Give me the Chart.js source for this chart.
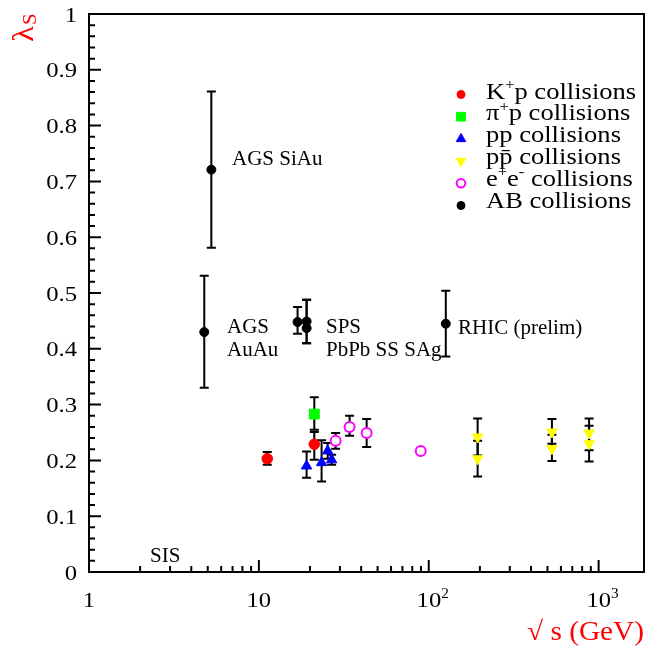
<!DOCTYPE html>
<html>
<head>
<meta charset="utf-8">
<script src="https://cdn.jsdelivr.net/npm/chart.js@4/dist/chart.umd.min.js"></script>
<style>
  body { margin: 0; background: #fff; }
  canvas { display: block; }
</style>
</head>
<body>
<canvas id="lambdaChart" width="649" height="648"></canvas>
<script>
// valores (sqrt(s) en GeV, lambda_s y barras de error)
const kpX = [11.2, 21.2];
const kpY = [0.203, 0.229];
const kpBajo = [0.192, 0.201];
const kpAlto = [0.215, 0.251];

const pipX = [21.2];
const pipY = [0.283];
const pipBajo = [0.255];
const pipAlto = [0.313];

const ppX = [19.1, 23.4, 25.4, 26.8];
const ppY = [0.190, 0.196, 0.217, 0.201];
const ppBajo = [0.169, 0.162, 0.203, 0.192];
const ppAlto = [0.216, 0.236, 0.231, 0.210];

const ppbarX = [194, 194, 531, 531, 879, 879];
const ppbarY = [0.242, 0.203, 0.251, 0.221, 0.249, 0.230];
const ppbarBajo = [0.209, 0.171, 0.230, 0.199, 0.218, 0.198];
const ppbarAlto = [0.275, 0.235, 0.274, 0.246, 0.275, 0.262];

const eeX = [28.3, 34.2, 43.1, 89.7];
const eeY = [0.235, 0.260, 0.249, 0.217];
const eeBajo = [0.221, 0.244, 0.224, 0.217];
const eeAlto = [0.249, 0.280, 0.274, 0.217];

const abX = [5.25, 4.77, 16.9, 19.1, 19.1, 126];
const abY = [0.721, 0.430, 0.448, 0.449, 0.437, 0.445];
const abBajo = [0.581, 0.330, 0.427, 0.410, 0.410, 0.386];
const abAlto = [0.861, 0.531, 0.475, 0.488, 0.488, 0.504];

// ejes
const xMin = 1, xMax = 1850;
const yMin = 0, yMax = 1;
const valoresY = [0, 0.1, 0.2, 0.3, 0.4, 0.5, 0.6, 0.7, 0.8, 0.9, 1];
const etiquetasY = ['0', '0.1', '0.2', '0.3', '0.4', '0.5', '0.6', '0.7', '0.8', '0.9', '1'];
const valoresX = [1, 10, 100, 1000];
const etiquetasX = [['1', ''], ['10', ''], ['10', '2'], ['10', '3']];

// leyenda y anotaciones
const leyenda = [
  [['K', 'n'], ['+', 'sup'], ['p collisions', 'n']],
  [['\u03c0', 'n'], ['+', 'sup'], ['p collisions', 'n']],
  [['pp collisions', 'n']],
  [['pp\u0304 collisions', 'n']],
  [['e', 'n'], ['+', 'sup'], ['e', 'n'], ['-', 'sup'], [' collisions', 'n']],
  [['AB collisions', 'n']]
];
const notas = [
  ['AGS SiAu', 232, 165],
  ['AGS', 227, 333],
  ['AuAu', 227, 356],
  ['SPS', 326, 333],
  ['PbPb SS SAg', 326, 356],
  ['RHIC (prelim)', 458, 334],
  ['SIS', 150, 562]
];

const fuente = 'Liberation Serif';

function texto(ctx, str, x, y, size, opts) {
  opts = opts || {};
  const sx = opts.sx || 1;
  ctx.save();
  ctx.font = size + 'px "' + fuente + '"';
  ctx.fillStyle = opts.color || '#000';
  ctx.textBaseline = 'alphabetic';
  ctx.textAlign = 'left';
  const w = ctx.measureText(str).width * sx;
  let x0 = x;
  if (opts.align === 'right') x0 = x - w;
  if (opts.align === 'center') x0 = x - w / 2;
  ctx.translate(x0, y);
  ctx.scale(sx, 1);
  ctx.fillText(str, 0, 0);
  ctx.restore();
  return w;
}

// texto con superindices
function rico(ctx, partes, x, y, size, opts) {
  opts = opts || {};
  const sx = opts.sx || 1;
  ctx.save();
  let total = 0;
  const piezas = partes.map(p => {
    const s = p[1] === 'n' ? size : size * 0.62;
    ctx.font = s + 'px "' + fuente + '"';
    const w = ctx.measureText(p[0]).width * sx;
    total += w;
    return { t: p[0], tipo: p[1], s: s, w: w };
  });
  ctx.restore();
  let cx = x;
  if (opts.align === 'center') cx = x - total / 2;
  if (opts.align === 'right') cx = x - total;
  piezas.forEach(p => {
    const dy = p.tipo === 'sup' ? -size * 0.42 : 0;
    texto(ctx, p.t, cx, y + dy, p.s, { sx: sx, color: opts.color });
    cx += p.w;
  });
}

const barrasError = {
  id: 'barrasError',
  beforeDatasetsDraw(chart) {
    const ctx = chart.ctx;
    const ys = chart.scales.y;
    ctx.save();
    ctx.strokeStyle = '#000';
    ctx.lineWidth = 2;
    chart.data.datasets.forEach((ds, i) => {
      const meta = chart.getDatasetMeta(i);
      meta.data.forEach((pt, j) => {
        const lo = ds.bajo[j], hi = ds.alto[j];
        if (lo === hi) return;
        const y1 = ys.getPixelForValue(lo), y2 = ys.getPixelForValue(hi);
        ctx.beginPath();
        ctx.moveTo(pt.x, y1); ctx.lineTo(pt.x, y2);
        ctx.moveTo(pt.x - 4.5, y1); ctx.lineTo(pt.x + 4.5, y1);
        ctx.moveTo(pt.x - 4.5, y2); ctx.lineTo(pt.x + 4.5, y2);
        ctx.stroke();
      });
    });
    ctx.restore();
  }
};

const marco = {
  id: 'marco',
  afterDraw(chart) {
    const ctx = chart.ctx;
    const a = chart.chartArea;
    const xs = chart.scales.x, ys = chart.scales.y;
    ctx.save();
    ctx.strokeStyle = '#000';
    ctx.lineWidth = 2;
    ctx.strokeRect(a.left, a.top, a.right - a.left, a.bottom - a.top);

    // marcas del eje y
    ctx.beginPath();
    for (let i = 0; i <= 50; i++) {
      const y = ys.getPixelForValue(i * 0.02);
      const largo = i % 5 === 0 ? 12 : 6;
      ctx.moveTo(a.left, y); ctx.lineTo(a.left + largo, y);
    }
    // marcas del eje x (log)
    [1, 10, 100, 1000].forEach(dec => {
      for (let m = 1; m <= 9; m++) {
        const v = m * dec;
        if (v <= xMin || v > xMax) continue;
        const x = xs.getPixelForValue(v);
        const largo = m === 1 ? 12 : 6;
        ctx.moveTo(x, a.bottom); ctx.lineTo(x, a.bottom - largo);
      }
    });
    ctx.stroke();
    ctx.restore();

    valoresY.forEach((v, i) => {
      texto(ctx, etiquetasY[i], a.left - 12, ys.getPixelForValue(v) + 7.5, 22, { align: 'right', sx: 1.12 });
    });
    valoresX.forEach((v, i) => {
      const e = etiquetasX[i];
      const partes = [[e[0], 'n']];
      if (e[1]) partes.push([e[1], 'sup']);
      rico(ctx, partes, xs.getPixelForValue(v) + (e[1] ? 4 : 0), 607, 22, { align: 'center', sx: 1.12 });
    });

    // titulos de los ejes
    ctx.save();
    ctx.translate(33, 42);
    ctx.rotate(-Math.PI / 2);
    const wl = texto(ctx, '\u03bb', 0, 0, 30, { color: '#ff0000', sx: 1.1 });
    texto(ctx, 'S', wl + 1, 3, 19, { color: '#ff0000', sx: 1.1 });
    ctx.restore();

    ctx.save();
    ctx.font = '27px "' + fuente + '"';
    const wt = ctx.measureText('\u221a s (GeV)').width;
    ctx.restore();
    texto(ctx, '\u221a s (GeV)', 644, 640, 27, { color: '#ff0000', align: 'right', sx: 117 / wt });

    // anotaciones
    notas.forEach(n => texto(ctx, n[0], n[1], n[2], 21));

    // leyenda
    chart.data.datasets.forEach((ds, i) => {
      const my = 94.5 + i * 22.2;
      ctx.save();
      ctx.fillStyle = ds.relleno || ds.backgroundColor;
      ctx.strokeStyle = ds.borderColor;
      ctx.lineWidth = ds.borderWidth;
      Chart.helpers.drawPoint(ctx, {
        pointStyle: ds.pointStyle,
        radius: ds.radioLeyenda,
        rotation: ds.rotation || 0,
        borderWidth: ds.borderWidth
      }, 461, my);
      ctx.restore();
      rico(ctx, leyenda[i], 486, 98.5 + i * 21.8, 22.5, { sx: 1.18 });
    });
  }
};

function puntos(xs, ys) {
  return xs.map((x, i) => ({ x: x, y: ys[i] }));
}

new Chart(document.getElementById('lambdaChart').getContext('2d'), {
  type: 'scatter',
  data: {
    datasets: [
      { data: puntos(kpX, kpY), bajo: kpBajo, alto: kpAlto, pointStyle: 'circle', pointRadius: 5.3,
        backgroundColor: '#ff0000', borderColor: '#ff0000', borderWidth: 1, radioLeyenda: 4 },
      { data: puntos(pipX, pipY), bajo: pipBajo, alto: pipAlto, pointStyle: 'rect', pointRadius: 7,
        backgroundColor: '#00ff00', borderColor: '#00ff00', borderWidth: 1, radioLeyenda: 6.2 },
      { data: puntos(ppX, ppY), bajo: ppBajo, alto: ppAlto, pointStyle: 'triangle', pointRadius: 6,
        backgroundColor: '#0000ff', borderColor: '#0000ff', borderWidth: 1, radioLeyenda: 5.5 },
      { data: puntos(ppbarX, ppbarY), bajo: ppbarBajo, alto: ppbarAlto, pointStyle: 'triangle', pointRadius: 6,
        rotation: 180, pointRotation: 180,
        backgroundColor: '#ffff00', borderColor: '#ffff00', borderWidth: 1, radioLeyenda: 5.5 },
      { data: puntos(eeX, eeY), bajo: eeBajo, alto: eeAlto, pointStyle: 'circle', pointRadius: 5,
        backgroundColor: '#ffffff', relleno: 'rgba(0,0,0,0)', borderColor: '#ff00ff', borderWidth: 2, radioLeyenda: 4.3 },
      { data: puntos(abX, abY), bajo: abBajo, alto: abAlto, pointStyle: 'circle', pointRadius: 4.5,
        backgroundColor: '#000000', borderColor: '#000000', borderWidth: 1, radioLeyenda: 4 }
    ]
  },
  options: {
    responsive: false,
    animation: false,
    devicePixelRatio: 1,
    layout: { padding: { top: 14, right: 5, left: 0, bottom: 0 }, autoPadding: false },
    plugins: { legend: { display: false }, tooltip: { enabled: false } },
    scales: {
      x: {
        type: 'logarithmic', min: xMin, max: xMax,
        grid: { display: false }, border: { display: false }, ticks: { display: false },
        afterFit: s => { s.height = 76; }
      },
      y: {
        type: 'linear', min: yMin, max: yMax,
        grid: { display: false }, border: { display: false }, ticks: { display: false },
        afterFit: s => { s.width = 89; }
      }
    }
  },
  plugins: [barrasError, marco]
});
</script>
</body>
</html>
